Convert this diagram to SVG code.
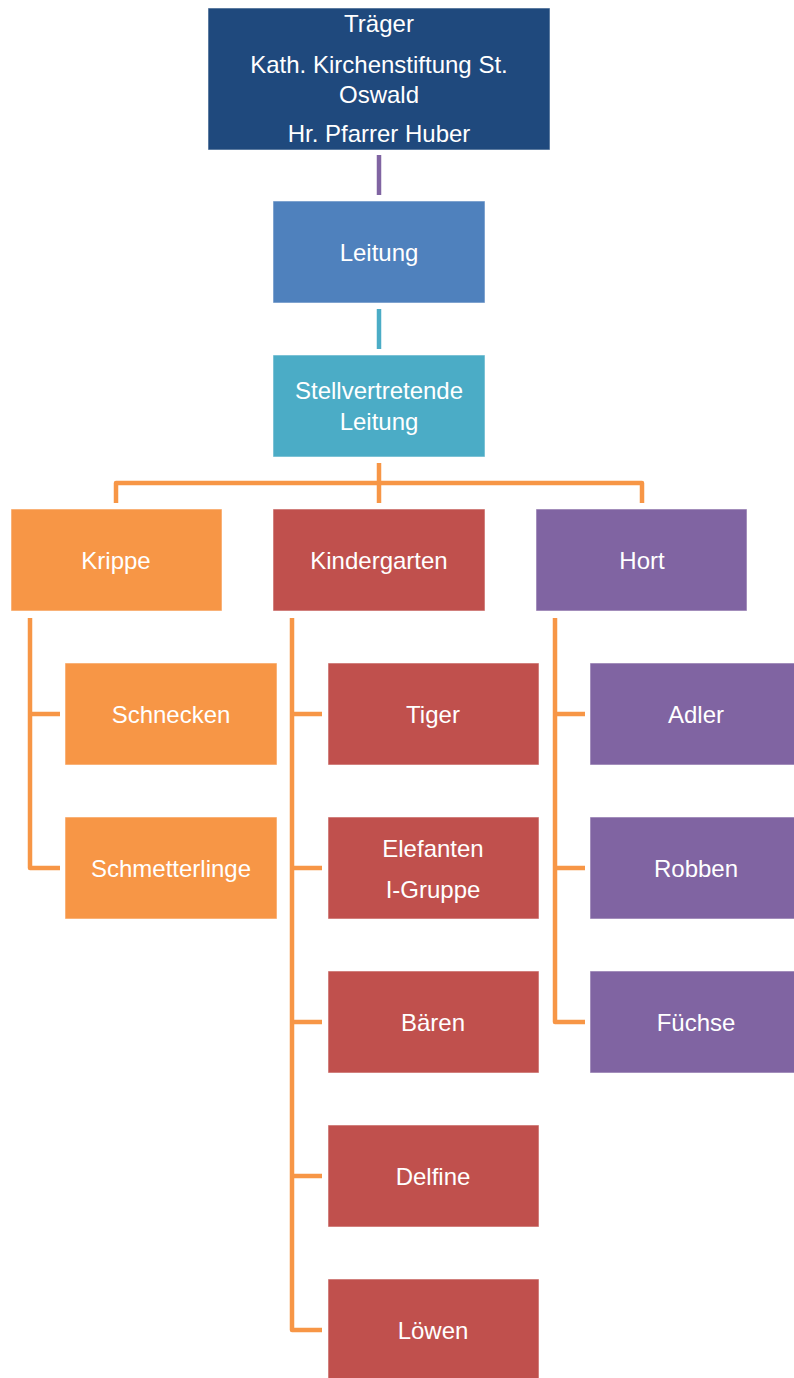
<svg xmlns="http://www.w3.org/2000/svg" width="794" height="1378" viewBox="0 0 794 1378">
<style>
.box{stroke:#ffffff;stroke-opacity:0.55;stroke-width:1}
.t{font-family:"Liberation Sans",Arial,sans-serif;font-size:24px;fill:#ffffff;text-anchor:middle;dominant-baseline:central}
.c{fill:none;stroke-width:4.5;stroke-linejoin:round;stroke-linecap:butt}
.o{stroke:#F79646}
</style>
<rect width="794" height="1378" fill="#ffffff"/>
<g id="connectors">
<line class="c" x1="379" y1="155" x2="379" y2="195" stroke="#8064A2"/>
<line class="c" x1="379" y1="309" x2="379" y2="349" stroke="#4BACC6"/>
<line class="c o" x1="379" y1="463" x2="379" y2="503"/>
<path class="c o" d="M116,503 V483 H642 V503"/>
<path class="c o" d="M30,618 V868 H60 M30,714 H60"/>
<path class="c o" d="M292,618 V1330 H322 M292,714 H322 M292,868 H322 M292,1022 H322 M292,1176 H322"/>
<path class="c o" d="M555,618 V1022 H585 M555,714 H585 M555,868 H585"/>
</g>
<g id="traeger"><rect class="box" x="208" y="8" width="342" height="142" fill="#1F497D"/>
<text class="t" x="379" y="23">Träger</text>
<text class="t" x="379" y="64">Kath. Kirchenstiftung St.</text>
<text class="t" x="379" y="94">Oswald</text>
<text class="t" x="379" y="133">Hr. Pfarrer Huber</text></g>
<g id="leitung"><rect class="box" x="273" y="201" width="212" height="102" fill="#4F81BD"/><text class="t" x="379" y="252">Leitung</text></g>
<g id="stellv"><rect class="box" x="273" y="355" width="212" height="102" fill="#4BACC6"/><text class="t" x="379" y="390">Stellvertretende</text><text class="t" x="379" y="421">Leitung</text></g>
<g id="krippe"><rect class="box" x="11" y="509" width="211" height="102" fill="#F79646"/><text class="t" x="116" y="560">Krippe</text></g>
<g id="kindergarten"><rect class="box" x="273" y="509" width="212" height="102" fill="#C0504D"/><text class="t" x="379" y="560">Kindergarten</text></g>
<g id="hort"><rect class="box" x="536" y="509" width="211" height="102" fill="#8064A2"/><text class="t" x="642" y="560">Hort</text></g>
<g id="schnecken"><rect class="box" x="65" y="663" width="212" height="102" fill="#F79646"/><text class="t" x="171" y="714">Schnecken</text></g>
<g id="schmetterlinge"><rect class="box" x="65" y="817" width="212" height="102" fill="#F79646"/><text class="t" x="171" y="868">Schmetterlinge</text></g>
<g id="tiger"><rect class="box" x="328" y="663" width="211" height="102" fill="#C0504D"/><text class="t" x="433" y="714">Tiger</text></g>
<g id="elefanten"><rect class="box" x="328" y="817" width="211" height="102" fill="#C0504D"/><text class="t" x="433" y="848">Elefanten</text><text class="t" x="433" y="889">I-Gruppe</text></g>
<g id="baeren"><rect class="box" x="328" y="971" width="211" height="102" fill="#C0504D"/><text class="t" x="433" y="1022">Bären</text></g>
<g id="delfine"><rect class="box" x="328" y="1125" width="211" height="102" fill="#C0504D"/><text class="t" x="433" y="1176">Delfine</text></g>
<g id="loewen"><rect class="box" x="328" y="1279" width="211" height="102" fill="#C0504D"/><text class="t" x="433" y="1330">Löwen</text></g>
<g id="adler"><rect class="box" x="590" y="663" width="212" height="102" fill="#8064A2"/><text class="t" x="696" y="714">Adler</text></g>
<g id="robben"><rect class="box" x="590" y="817" width="212" height="102" fill="#8064A2"/><text class="t" x="696" y="868">Robben</text></g>
<g id="fuechse"><rect class="box" x="590" y="971" width="212" height="102" fill="#8064A2"/><text class="t" x="696" y="1022">Füchse</text></g>
</svg>
